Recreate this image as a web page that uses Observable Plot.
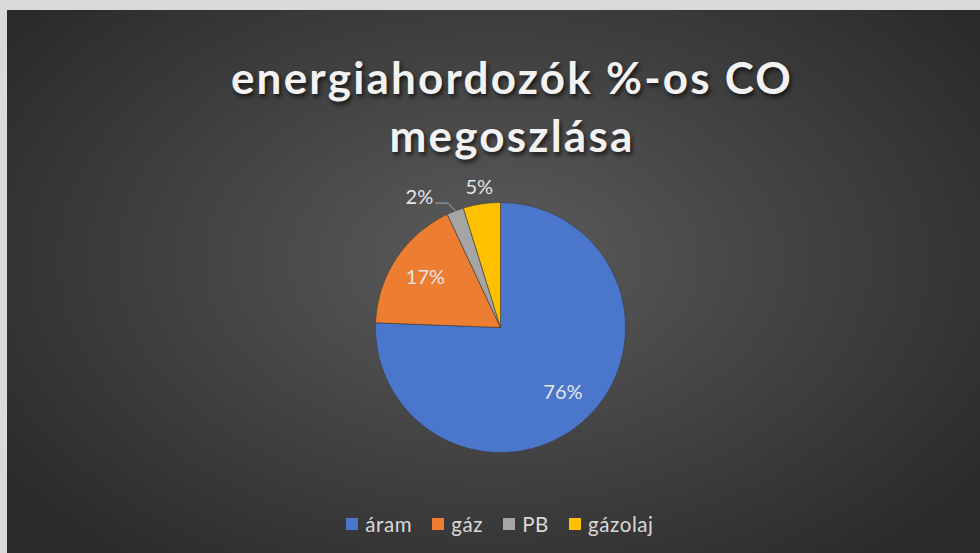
<!DOCTYPE html>
<html>
<head>
<meta charset="utf-8">
<script src="https://cdn.jsdelivr.net/npm/d3@7"></script>
<script src="https://cdn.jsdelivr.net/npm/@observablehq/plot@0.6"></script>
<style>
  html, body { margin: 0; padding: 0; }
  body { width: 980px; height: 553px; background: #d9d9d9; position: relative; overflow: hidden; font-family: Lato, "Open Sans", sans-serif; }
  #panel { position: absolute; left: 7px; top: 10px; width: 973px; height: 543px;
    background: radial-gradient(ellipse 62% 72% at 50% 46%, #5c5c5c 0%, #454545 45%, #2a2a2a 100%); }
  #title { position: absolute; left: 0; width: 1010px; top: 38px; text-align: center; color: #f2f2f2;
    font-weight: 700; font-size: 44px; line-height: 58px; letter-spacing: 2.2px;
    text-shadow: 2px 3px 4px rgba(0,0,0,0.65); }
  #chart { position: absolute; left: 0; top: 0; }
  #legend { position: absolute; left: 0; width: 986px; top: 502px; display: flex; justify-content: center; gap: 20px;
    color: #d9d9d9; font-size: 20.5px; letter-spacing: 0.6px; }
  #legend span.item { display: flex; align-items: center; gap: 7px; }
  #legend span.sw { width: 12px; height: 12px; display: inline-block; }
</style>
</head>
<body>
<div id="panel">
  <div id="title">energiahordozók %-os CO<br>megoszlása</div>
  <div id="chart"></div>
  <div id="legend"></div>
</div>
<script>
// Data
const categories = ["áram", "gáz", "PB", "gázolaj"];
const values = [75.6, 17.4, 2.2, 4.8];
const colors = ["#4a77cc", "#ed7d31", "#a5a5a5", "#ffc000"];
const labelOutside = [false, false, true, true];

const rows = categories.map((c, i) => ({category: c, value: values[i], color: colors[i], outside: labelOutside[i]}));
const arcs = d3.pie().sort(null).value(d => d.value)(rows);

// polygon points for each slice in unit circle coordinates (angle clockwise from top)
const slicePts = [];
arcs.forEach(a => {
  const n = Math.max(4, Math.ceil((a.endAngle - a.startAngle) / 0.01));
  slicePts.push({category: a.data.category, x: 0, y: 0});
  for (let k = 0; k <= n; k++) {
    const t = a.startAngle + (a.endAngle - a.startAngle) * k / n;
    slicePts.push({category: a.data.category, x: Math.sin(t), y: Math.cos(t)});
  }
  slicePts.push({category: a.data.category, x: 0, y: 0});
});

const labels = arcs.map(a => {
  const mid = (a.startAngle + a.endAngle) / 2;
  const r = a.data.outside ? 1.13 : 0.72;
  return {text: Math.round(a.data.value) + "%", x: r * Math.sin(mid), y: r * Math.cos(mid), mid, outside: a.data.outside, category: a.data.category};
});
// PB label uses a leader line
const pb = labels.find(d => d.category === "PB");
const leader = [
  {x: Math.sin(pb.mid), y: Math.cos(pb.mid)},
  {x: 1.1 * Math.sin(pb.mid) - 0.02, y: 1.1 * Math.cos(pb.mid) - 0.03},
  {x: 1.1 * Math.sin(pb.mid) - 0.12, y: 1.1 * Math.cos(pb.mid) - 0.03}
];
pb.x = leader[2].x - 0.02; pb.y = leader[2].y + 0.04; pb.anchor = "end";

const plot = Plot.plot({
  width: 973, height: 543,
  marginLeft: 368, marginRight: 355, marginTop: 192, marginBottom: 101,
  x: {domain: [-1, 1], axis: null},
  y: {domain: [-1, 1], axis: null},
  color: {domain: categories, range: colors},
  style: {background: "transparent", overflow: "visible"},
  marks: [
    Plot.line(slicePts, {x: "x", y: "y", z: "category", fill: "category", stroke: "#3a3a3a", strokeWidth: 0.6, curve: "linear"}),
    Plot.line(leader, {x: "x", y: "y", stroke: "#a6a6a6", strokeWidth: 1}),
    Plot.text(labels.filter(d => !d.anchor), {x: "x", y: "y", text: "text", fill: "#e6e6e6", fontSize: 20, fontFamily: "Lato, sans-serif"}),
    Plot.text(labels.filter(d => d.anchor), {x: "x", y: "y", text: "text", fill: "#e6e6e6", fontSize: 20, fontFamily: "Lato, sans-serif", textAnchor: "end"})
  ]
});
document.getElementById("chart").appendChild(plot);

const legend = document.getElementById("legend");
categories.forEach((c, i) => {
  const item = document.createElement("span");
  item.className = "item";
  const sw = document.createElement("span");
  sw.className = "sw";
  sw.style.background = colors[i];
  const t = document.createElement("span");
  t.textContent = c;
  item.appendChild(sw); item.appendChild(t);
  legend.appendChild(item);
});
</script>
</body>
</html>
